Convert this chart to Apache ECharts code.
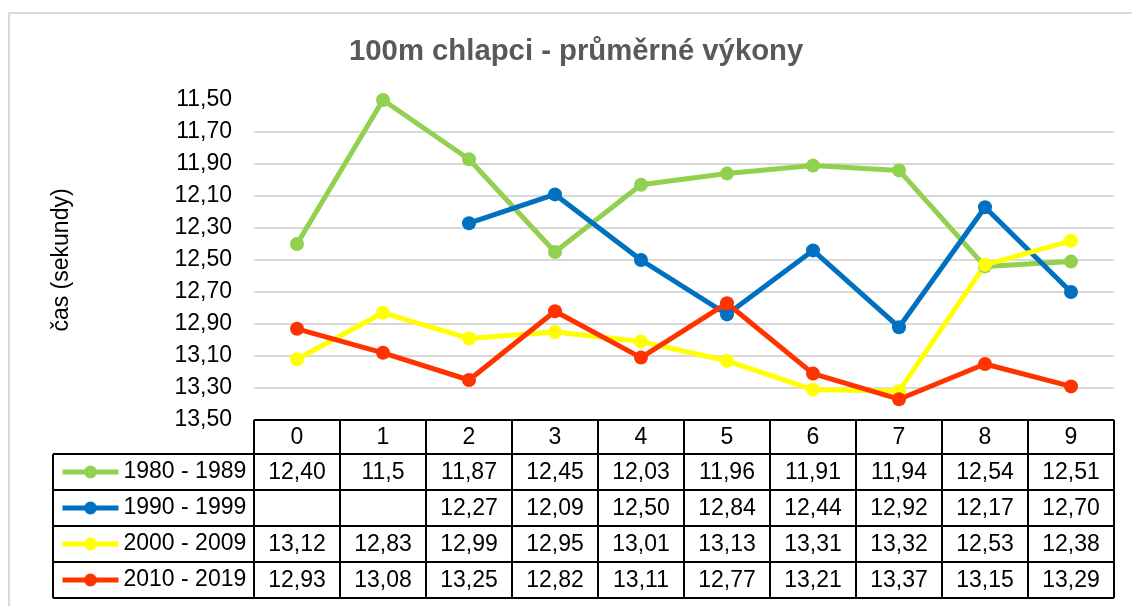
<!DOCTYPE html>
<html>
<head>
    <meta charset="utf-8">
    <title>100m chlapci</title>
    <script src="https://cdn.jsdelivr.net/npm/echarts@6/dist/echarts.min.js"></script>
    <style>
        html, body {
            margin: 0;
            padding: 0;
            background: #fff;
        }

        #main {
            width: 1132px;
            height: 606px;
        }
    </style>
</head>
<body>
<div id="main"></div>
<script>
    // kategorie (osa x) a hodnoty tak, jak stoji v tabulce
    var categories = ['0', '1', '2', '3', '4', '5', '6', '7', '8', '9'];
    var names = ['1980 - 1989', '1990 - 1999', '2000 - 2009', '2010 - 2019'];
    var colors = ['#92D050', '#0070C0', '#FFFF00', '#FF3300'];

    var r1980 = ['12,40', '11,5', '11,87', '12,45', '12,03', '11,96', '11,91', '11,94', '12,54', '12,51'];
    var r1990 = ['', '', '12,27', '12,09', '12,50', '12,84', '12,44', '12,92', '12,17', '12,70'];
    var r2000 = ['13,12', '12,83', '12,99', '12,95', '13,01', '13,13', '13,31', '13,32', '12,53', '12,38'];
    var r2010 = ['12,93', '13,08', '13,25', '12,82', '13,11', '12,77', '13,21', '13,37', '13,15', '13,29'];
    var rows = [r1980, r1990, r2000, r2010];

    var yMin = 11.5, yMax = 13.5, yStep = 0.2;

    function toNum(s) {
        return s === '' ? null : parseFloat(s.replace(',', '.'));
    }

    var font = '"Liberation Sans", Arial, sans-serif';
    var fs = 23;

    // mrizka: nejvyssi cara (11,50) neni videt
    var gridColors = ['rgba(0,0,0,0)'];
    for (var g = 0; g < 10; g++) gridColors.push('#d9d9d9');

    var series = [];
    var legendData = [];
    for (var i = 0; i < rows.length; i++) {
        series.push({
            name: names[i],
            type: 'line',
            data: rows[i].map(toNum),
            symbol: 'circle',
            symbolSize: 14,
            connectNulls: false,
            lineStyle: {width: 5, color: colors[i]},
            itemStyle: {color: colors[i]},
            emphasis: {disabled: true}
        });
        legendData.push({name: names[i], lineStyle: {width: 5, color: colors[i]}});
    }

    var myChart = echarts.init(document.getElementById('main'));
    var option = {
        animation: false,
        title: {
            text: '100m chlapci - průměrné výkony',
            left: 349,
            top: 37,
            padding: 0,
            textStyle: {
                color: '#595959',
                fontFamily: font,
                fontWeight: 'bold',
                fontSize: 29.3
            }
        },
        legend: {
            data: legendData,
            orient: 'vertical',
            left: 60,
            top: 454,
            padding: 0,
            itemGap: 0,
            itemWidth: 56,
            itemHeight: 16,
            selectedMode: false,
            textStyle: {
                fontFamily: font,
                fontSize: fs,
                color: '#000',
                lineHeight: 36,
                height: 36
            }
        },
        grid: {
            left: 254,
            right: 18,
            top: 100,
            bottom: 186
        },
        xAxis: {
            type: 'category',
            data: categories,
            boundaryGap: true,
            axisLine: {show: false},
            axisTick: {show: false},
            axisLabel: {show: false},
            splitLine: {show: false}
        },
        yAxis: {
            type: 'value',
            inverse: true,
            min: yMin,
            max: yMax,
            interval: yStep,
            name: 'čas (sekundy)',
            nameLocation: 'middle',
            nameGap: 181,
            nameTextStyle: {
                fontFamily: font,
                fontSize: fs,
                color: '#000'
            },
            axisLine: {show: false},
            axisTick: {show: false},
            axisLabel: {
                margin: 22,
                fontFamily: font,
                fontSize: fs,
                color: '#000',
                formatter: function (v) {
                    return v.toFixed(2).replace('.', ',');
                }
            },
            splitLine: {
                show: true,
                lineStyle: {color: gridColors, width: 2}
            }
        },
        series: series
    };
    myChart.setOption(option);

    // datova tabulka pod grafem, pozice z os grafu
    function buildTable() {
        var c0 = myChart.convertToPixel({xAxisIndex: 0}, 0);
        var c1 = myChart.convertToPixel({xAxisIndex: 0}, 1);
        var half = (c1 - c0) / 2;
        var top = myChart.convertToPixel({yAxisIndex: 0}, yMax);
        var headH = 34, rowH = 36;
        var legLeft = 53;
        var left = c0 - half;
        var right = myChart.convertToPixel({xAxisIndex: 0}, categories.length - 1) + half;
        var bottom = top + headH + rowH * rows.length;
        var els = [];
        var line = {stroke: '#000', lineWidth: 2};

        // ramecek celeho grafu
        els.push({
            type: 'rect',
            shape: {x: 9, y: 13, width: 1300, height: 800},
            style: {fill: 'none', stroke: '#d9d9d9', lineWidth: 2},
            silent: true
        });

        // vodorovne cary
        els.push({type: 'line', shape: {x1: left, y1: top, x2: right, y2: top}, style: line});
        for (var r = 0; r <= rows.length; r++) {
            var y = top + headH + rowH * r;
            els.push({type: 'line', shape: {x1: legLeft, y1: y, x2: right, y2: y}, style: line});
        }
        // svisle cary
        els.push({type: 'line', shape: {x1: legLeft, y1: top + headH, x2: legLeft, y2: bottom}, style: line});
        for (var c = 0; c <= categories.length; c++) {
            var x = left + c * 2 * half;
            els.push({type: 'line', shape: {x1: x, y1: top, x2: x, y2: bottom}, style: line});
        }
        // texty
        var txt = function (x, y, s) {
            return {
                type: 'text',
                x: x,
                y: y,
                style: {
                    text: s,
                    fill: '#000',
                    font: fs + 'px ' + font,
                    align: 'center',
                    verticalAlign: 'middle'
                },
                silent: true
            };
        };
        for (var k = 0; k < categories.length; k++) {
            var cx = myChart.convertToPixel({xAxisIndex: 0}, k);
            els.push(txt(cx, top + headH / 2 + 1, categories[k]));
            for (var j = 0; j < rows.length; j++) {
                if (rows[j][k] !== '') {
                    els.push(txt(cx, top + headH + rowH * j + rowH / 2 + 1, rows[j][k]));
                }
            }
        }
        myChart.setOption({graphic: {elements: els}});
    }

    buildTable();
</script>
</body>
</html>
